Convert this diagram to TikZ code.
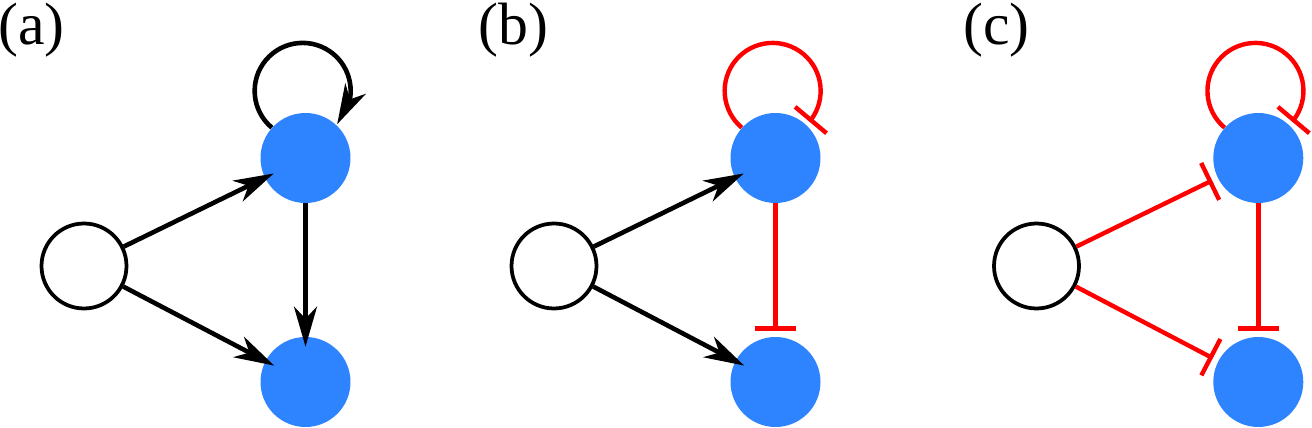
\documentclass[tikz,border=0pt]{standalone}
\usepackage{fontspec}
\setmainfont{Liberation Serif}
\newfontfamily\labfont{Liberation Serif}
\usetikzlibrary{arrows.meta,bending}
\definecolor{nodeblue}{RGB}{46,131,255}
\definecolor{inhred}{RGB}{255,0,0}
\begin{document}
\begin{tikzpicture}[x=0.02cm,y=-0.02cm,
  wnode/.style={circle,draw=black,line width=0.075cm,fill=white,minimum size=1.70cm,inner sep=0pt},
  bnode/.style={circle,fill=nodeblue,minimum size=1.8cm,inner sep=0pt},
  act/.style={line width=0.092cm,-{Stealth[length=0.8cm,width=0.46cm,inset=0.24cm]},shorten >=-0.2cm},
  loopact/.style={line width=0.092cm,-{Stealth[length=0.8cm,width=0.46cm,inset=0.24cm,flex]}},
  inh/.style={line width=0.088cm,draw=inhred,-{Bar[width=0.82cm]},shorten >=0.12cm},
  loopinh/.style={line width=0.088cm,draw=inhred,-{Bar[width=0.82cm]}},
  lab/.style={anchor=base west,inner sep=0pt,font=\labfont\fontsize{34}{40}\selectfont}]
\useasboundingbox (0,0) rectangle (1312,428);

% labels
\node[lab] (la) at (-2,45) {(a)};
\node[lab] (lb) at (478.5,45) {(b)};
\node[lab] (lc) at (963,45) {(c)};

% panel (a)
\node[wnode] (wa) at (84,266) {};
\node[bnode] (ta) at (305.5,158) {};
\node[bnode] (ba) at (305.5,382) {};
\draw[act] (wa) -- (ta);
\draw[act] (wa) -- (ba);
\draw[act] (ta) -- (ba);
\draw[loopact] (ta.138) arc[start angle=230,end angle=-44,radius=0.96cm];

% panel (b)
\node[wnode] (wb) at (554,266) {};
\node[bnode] (tb) at (775.5,158) {};
\node[bnode] (bb) at (775.5,382) {};
\draw[act] (wb) -- (tb);
\draw[act] (wb) -- (bb);
\draw[inh] (tb) -- (bb);
\draw[loopinh] (tb.138) arc[start angle=230,end angle=-40,radius=0.96cm];

% panel (c)
\node[wnode] (wc) at (1036.5,266) {};
\node[bnode] (tc) at (1258.3,158) {};
\node[bnode] (bc) at (1258.3,382) {};
\draw[inh] (wc) -- (tc);
\draw[inh] (wc) -- (bc);
\draw[inh] (tc) -- (bc);
\draw[loopinh] (tc.138) arc[start angle=230,end angle=-40,radius=0.96cm];
\end{tikzpicture}
\end{document}
